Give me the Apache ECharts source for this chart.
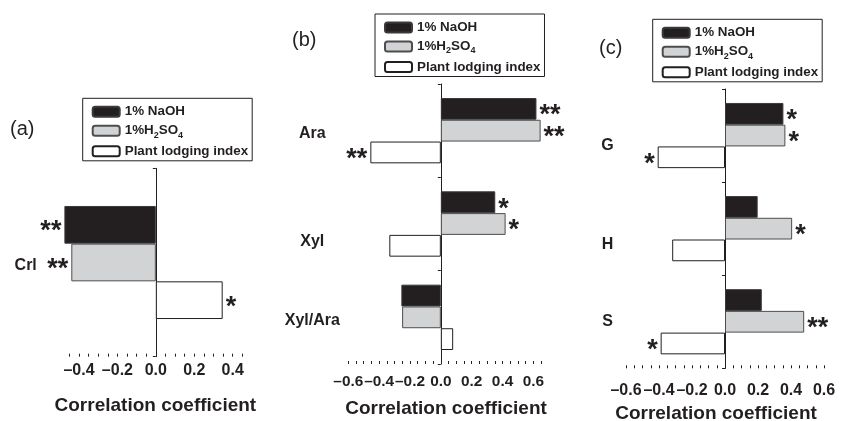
<!DOCTYPE html>
<html>
<head>
<meta charset="utf-8">
<script src="https://cdn.jsdelivr.net/npm/echarts@6/dist/echarts.min.js"></script>
<style>
html,body{margin:0;padding:0;background:#fff;}
#chart{width:843px;height:421px;}
</style>
</head>
<body>
<div id="chart"></div>
<script>
// ---------- data ----------
const seriesNames = ['1% NaOH', '1%H2SO4', 'Plant lodging index'];
const legendLabels = ['1% NaOH', '1%H{sub|2}SO{sub|4}', 'Plant lodging index'];
const panelTitles = ['(a)', '(b)', '(c)'];
const axisName = 'Correlation coefficient';

const catsA = ['Crl'];
const naohA = [-0.476];
const h2so4A = [-0.44];
const pliA = [0.348];
const sigNaohA = ['**'];
const sigH2so4A = ['**'];
const sigPliA = ['*'];
const tickLabelsA = [-0.4, -0.2, 0.0, 0.2, 0.4];

const catsB = ['Ara', 'Xyl', 'Xyl/Ara'];
const naohB = [0.62, 0.353, -0.256];
const h2so4B = [0.647, 0.42, -0.251];
const pliB = [-0.457, -0.334, 0.08];
const sigNaohB = ['**', '*', ''];
const sigH2so4B = ['**', '*', ''];
const sigPliB = ['**', '', ''];
const tickLabelsB = [-0.6, -0.4, -0.2, 0.0, 0.2, 0.4, 0.6];

const catsC = ['G', 'H', 'S'];
const naohC = [0.354, 0.198, 0.223];
const h2so4C = [0.366, 0.407, 0.48];
const pliC = [-0.408, -0.32, -0.39];
const sigNaohC = ['*', '', ''];
const sigH2so4C = ['*', '*', '**'];
const sigPliC = ['*', '', '*'];
const tickLabelsC = [-0.6, -0.4, -0.2, 0.0, 0.2, 0.4, 0.6];

// ---------- styles / layout ----------
const INK = '#231f20';
const FONT = '"Liberation Sans", Arial, sans-serif';
const barStyles = [
  {color: '#231f20', borderColor: '#3a3a3a', borderWidth: 1},
  {color: '#d1d3d4', borderColor: '#4d4d4f', borderWidth: 1},
  {color: '#ffffff', borderColor: '#231f20', borderWidth: 1}
];
const panels = [
  {cats: catsA, vals: [naohA, h2so4A, pliA], sigs: [sigNaohA, sigH2so4A, sigPliA], ticks: tickLabelsA,
   grid: {left: 61.7, top: 168.3, width: 187.3, height: 188.4}, min: -0.49, max: 0.485, minor: [-0.45, 0.45],
   gap: '40%', legend: {left: 82.7, top: 98.3}, title: {left: 10, top: 119},
   catLabelMargin: 36, catShift: [3], labelMargin: 6, labelSize: 16, nameGap: 40, namePad: [0,0,0,0]},
  {cats: catsB, vals: [naohB, h2so4B, pliB], sigs: [sigNaohB, sigH2so4B, sigPliB], ticks: tickLabelsB,
   grid: {left: 348.3, top: 84, width: 197.4, height: 280}, min: -0.6, max: 0.68, minor: [-0.6, 0.65],
   gap: '30%', legend: {left: 375, top: 14}, title: {left: 292, top: 30},
   catLabelMargin: 36, catShift: [3, 18, 3], labelMargin: 10, labelSize: 15.4, nameGap: 35, namePad: [0,2,0,0]},
  {cats: catsC, vals: [naohC, h2so4C, pliC], sigs: [sigNaohC, sigH2so4C, sigPliC], ticks: tickLabelsC,
   grid: {left: 626, top: 89, width: 198, height: 279.3}, min: -0.6, max: 0.6, minor: [-0.6, 0.6],
   gap: '30%', legend: {left: 652.7, top: 19.3}, title: {left: 599, top: 38},
   catLabelMargin: 18.5, catShift: [10, 16, 0], labelMargin: 14, labelSize: 16, nameGap: 36, namePad: [0,18,0,0]}
];

function fmt(v) {
  return v.toFixed(1).replace('-', '\u2013');
}
function tickList(a, b) {
  const out = [];
  for (let k = Math.round(a * 20); k <= Math.round(b * 20); k++) out.push(k / 20);
  return out;
}

const option = {
  animation: false,
  backgroundColor: '#fff',
  textStyle: {fontFamily: FONT},
  title: [], grid: [], xAxis: [], yAxis: [], legend: [], series: []
};

panels.forEach((p, pi) => {
  option.title.push({
    text: panelTitles[pi], left: p.title.left, top: p.title.top, padding: 0,
    textStyle: {fontSize: 20, fontWeight: 'normal', color: INK, fontFamily: FONT}
  });
  option.grid.push(Object.assign({containLabel: false, outerBoundsMode: 'none'}, p.grid));
  option.xAxis.push({
    type: 'value', gridIndex: pi, min: p.min, max: p.max,
    axisLine: {onZero: false, lineStyle: {color: INK, width: 1}},
    splitLine: {show: false},
    axisTick: {show: true, inside: true, length: 3, lineStyle: {color: INK}, customValues: tickList(p.minor[0], p.minor[1])},
    axisLabel: {customValues: p.ticks, formatter: fmt, fontSize: p.labelSize, fontWeight: 'bold', color: INK,
                fontFamily: FONT, margin: p.labelMargin, showMinLabel: true, showMaxLabel: true, hideOverlap: false},
    name: axisName, nameLocation: 'middle', nameGap: p.nameGap,
    nameTextStyle: {fontSize: 19, fontWeight: 'bold', color: INK, fontFamily: FONT, padding: p.namePad}
  });
  // axis line at zero with category boundary ticks
  option.yAxis.push({
    type: 'category', gridIndex: pi, data: p.cats, inverse: true,
    axisLine: {onZero: true, lineStyle: {color: INK, width: 1}},
    axisTick: {show: true, length: 3, lineStyle: {color: INK}},
    axisLabel: {show: false}, splitLine: {show: false}
  });
  // category labels at the left of the plot
  const rich = {};
  p.cats.forEach((c, i) => {
    rich['s' + i] = {fontSize: 16, fontWeight: 'bold', color: INK, fontFamily: FONT,
                     padding: [2 * p.catShift[i], 0, 0, 0]};
  });
  option.yAxis.push({
    type: 'category', gridIndex: pi, position: 'left', inverse: true,
    data: p.cats,
    axisLine: {show: false, onZero: false}, axisTick: {show: false}, splitLine: {show: false},
    axisLabel: {margin: p.catLabelMargin, align: 'center', fontSize: 16, fontWeight: 'bold', color: INK, fontFamily: FONT,
                formatter: (v, i) => '{s' + i + '|' + v + '}', rich: rich}
  });
  option.legend.push({
    data: seriesNames, orient: 'vertical', left: p.legend.left, top: p.legend.top,
    itemWidth: 27, itemHeight: 10, itemGap: 4, padding: [6, 4, 2, 9],
    borderColor: INK, borderWidth: 1, selectedMode: false,
    formatter: n => legendLabels[seriesNames.indexOf(n)],
    textStyle: {fontSize: 13.4, fontWeight: 'bold', color: INK, fontFamily: FONT, lineHeight: 15,
      rich: {sub: {fontSize: 9, fontWeight: 'bold', color: INK, fontFamily: FONT, padding: [9, 0, 0, 0]}}}
  });
  seriesNames.forEach((name, si) => {
    const sig = p.sigs[si];
    option.series.push({
      type: 'bar', name: name, xAxisIndex: pi, yAxisIndex: pi * 2,
      barGap: '0%', barCategoryGap: p.gap,
      itemStyle: barStyles[si],
      emphasis: {disabled: true},
      label: {show: true, fontSize: 27, fontWeight: 'bold', color: INK, fontFamily: FONT,
              distance: 3, offset: [0, 7], formatter: prm => sig[prm.dataIndex]},
      data: p.vals[si].map(v => ({value: v, label: {position: v < 0 ? 'left' : 'right'}}))
    });
  });
});

const chart = echarts.init(document.getElementById('chart'), null, {renderer: 'canvas'});
chart.setOption(option);
</script>
</body>
</html>
